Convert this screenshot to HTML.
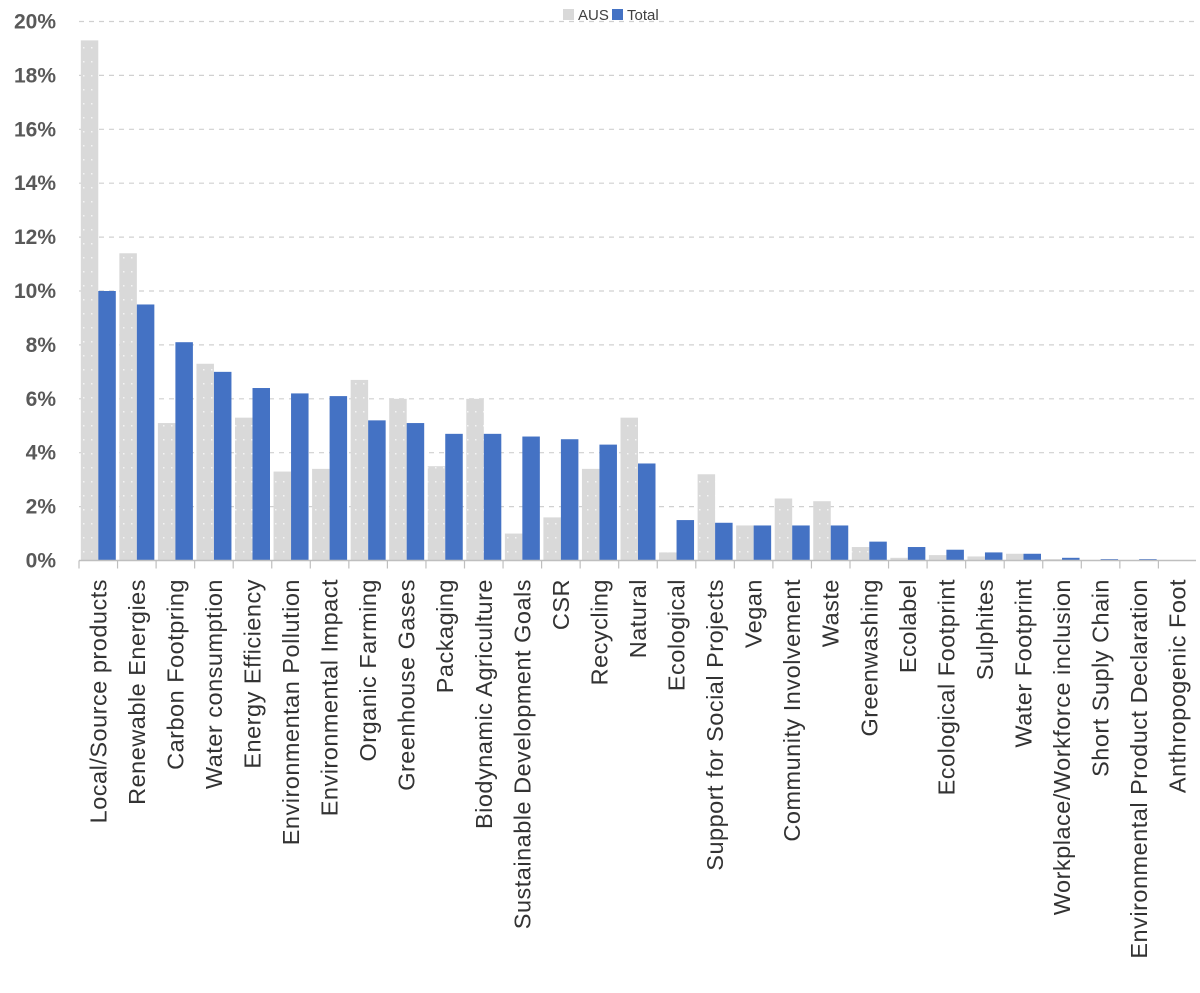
<!DOCTYPE html>
<html><head><meta charset="utf-8"><style>body{margin:0;background:#fff}svg{display:block;font-family:"Liberation Sans",sans-serif}</style></head><body>
<svg id="c" width="1200" height="993"></svg>
<script>
const categories=["Local/Source products","Renewable Energies","Carbon Footpring","Water consumption","Energy Efficiency","Environmentan Pollution","Environmental Impact","Organic Farming","Greenhouse Gases","Packaging","Biodynamic Agriculture","Sustainable Development Goals","CSR","Recycling","Natural","Ecological","Support for Social Projects","Vegan","Community Involvement","Waste","Greenwashing","Ecolabel","Ecological Footprint","Sulphites","Water Footprint","Workplace/Workforce inclusion","Short Suply Chain","Environmental Product Declaration","Anthropogenic Foot"];
const ausValues=[19.3,11.4,5.1,7.3,5.3,3.3,3.4,6.7,6.0,3.5,6.0,1.0,1.6,3.4,5.3,0.3,3.2,1.3,2.3,2.2,0.5,0.1,0.2,0.15,0.25,0.05,0.02,0,0];
const totalValues=[10.0,9.5,8.1,7.0,6.4,6.2,6.1,5.2,5.1,4.7,4.7,4.6,4.5,4.3,3.6,1.5,1.4,1.3,1.3,1.3,0.7,0.5,0.4,0.3,0.25,0.1,0.05,0.05,0];
const yTicks=[0,2,4,6,8,10,12,14,16,18,20];
const NS="http://www.w3.org/2000/svg",svg=document.getElementById('c');
const x0=79,cw=38.55,y0=560.5,py=26.95,bw=17.5;
const X=i=>x0+i*cw, Y=v=>y0-v*py;
function mk(t,a,p){const e=document.createElementNS(NS,t);for(const k in a)e.setAttribute(k,a[k]);(p||svg).appendChild(e);return e;}
const defs=mk('defs',{});
const pat=mk('pattern',{id:'dots',width:8,height:14,patternUnits:'userSpaceOnUse'},defs);
mk('rect',{width:8,height:14,fill:'#d9d9d9'},pat);
mk('rect',{x:3,y:5,width:1.5,height:1.5,fill:'#f4f4f4'},pat);
yTicks.forEach(t=>{
  if(t>0){const g=mk('line',{x1:x0,x2:1196,y1:Y(t),y2:Y(t),stroke:'#d0d0d0','stroke-dasharray':'5,5','stroke-width':1.2});
  
  }
  const l=mk('text',{x:56,y:Y(t)+7,'text-anchor':'end','font-size':21,'font-weight':'bold',fill:'#595959'});
  l.textContent=t+'%';
  
  
});
categories.forEach((c,i)=>{
  const a=mk('rect',{x:X(i)+1.8,y:Y(ausValues[i]),width:bw,height:ausValues[i]*py,fill:'url(#dots)'});
  
  
  const b=mk('rect',{x:X(i)+1.8+bw,y:Y(totalValues[i]),width:bw,height:totalValues[i]*py,fill:'#4472c4'});
  
  
  mk('line',{x1:X(i),x2:X(i),y1:y0,y2:y0+8,stroke:'#bfbfbf','stroke-width':1.2});
  const cx=X(i)+cw/2+8;
  const t=mk('text',{x:0,y:0,transform:`translate(${cx},579) rotate(-90)`,'text-anchor':'end','font-size':23.5,'letter-spacing':0.5,fill:'#333'});
  t.textContent=c;
  
  
});
mk('line',{x1:x0,x2:1196,y1:y0,y2:y0,stroke:'#bfbfbf','stroke-width':1.5});
const lg=mk('g',{});


mk('rect',{x:563,y:9,width:11,height:11,fill:'#d9d9d9'},lg);
const t1=mk('text',{x:578,y:20,'font-size':15,fill:'#404040'},lg);t1.textContent='AUS';
mk('rect',{x:612,y:9,width:11,height:11,fill:'#4472c4'},lg);
const t2=mk('text',{x:627,y:20,'font-size':15,fill:'#404040'},lg);t2.textContent='Total';
</script>
</body></html>
